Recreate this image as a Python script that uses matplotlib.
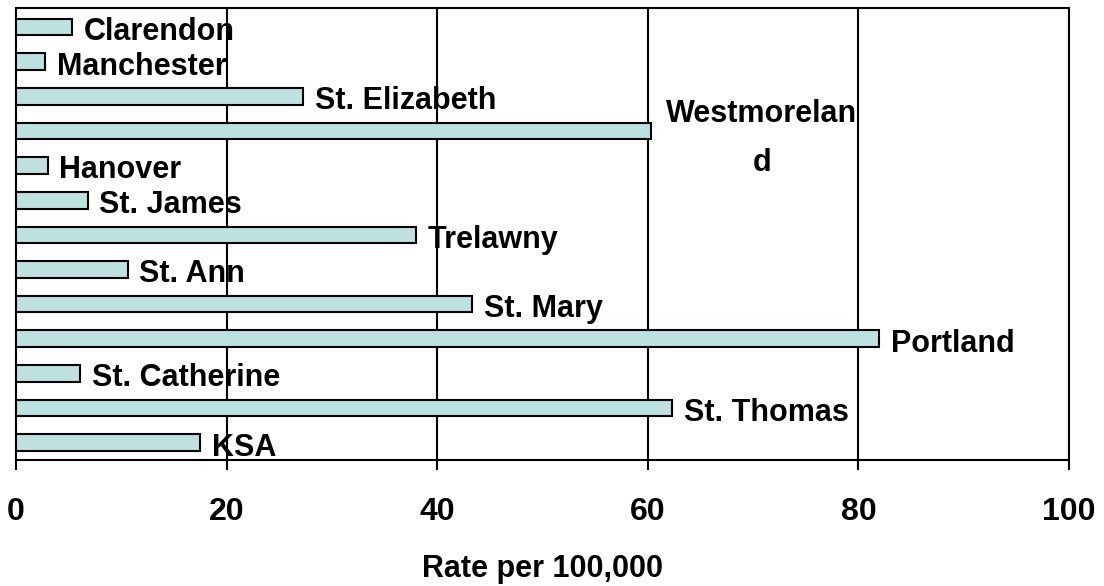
import matplotlib.pyplot as plt

# parishes, top to bottom as in the chart
parishes = ["Clarendon", "Manchester", "St. Elizabeth", "Westmoreland", "Hanover",
            "St. James", "Trelawny", "St. Ann", "St. Mary", "Portland",
            "St. Catherine", "St. Thomas", "KSA"]
rates = [5.3, 2.75, 27.3, 60.3, 3.0, 6.8, 38.0, 10.6, 43.3, 82.0, 6.1, 62.3, 17.5]
bar_labels = ["Clarendon", "Manchester", "St. Elizabeth", "Westmorelan\nd", "Hanover",
              "St. James", "Trelawny", "St. Ann", "St. Mary", "Portland",
              "St. Catherine", "St. Thomas", "KSA"]
xticks = [0, 20, 40, 60, 80, 100]

plt.rcParams['font.family'] = ['Liberation Sans', 'DejaVu Sans']
plt.rcParams['font.weight'] = 'bold'

fig = plt.figure(figsize=(11.04, 5.86), dpi=100)
ax = fig.add_axes([16/1104, 1 - 460/586, (1069 - 16)/1104, (460 - 8)/586])

pos = list(range(len(parishes)))
ax.barh(pos, rates, height=0.48, color='#BDE0E1', edgecolor='black', linewidth=1.5, zorder=3)

for i, (v, lab) in enumerate(zip(rates, bar_labels)):
    if "\n" in lab:
        # wrapped label sits to the right of its bar
        ax.annotate(lab, (v, i), xytext=(11, -5.5), textcoords='offset points',
                    ha='left', va='center', multialignment='center',
                    fontsize=22, fontweight='bold', linespacing=1.8, zorder=4)
    else:
        ax.annotate(lab, (v, i), xytext=(8.5, -3.5), textcoords='offset points',
                    ha='left', va='center', fontsize=22, fontweight='bold', zorder=4)

ax.set_xlim(0, 100)
ax.set_ylim(12.5, -0.55)
ax.set_xticks(xticks)
ax.set_xticklabels([str(t) for t in xticks], fontsize=23, fontweight='bold')
ax.set_yticks([])
ax.tick_params(axis='x', direction='out', length=7, width=1.5, pad=20)

for x in xticks[1:]:
    ax.axvline(x, color='black', linewidth=1.5, zorder=1)

for s in ax.spines.values():
    s.set_linewidth(1.5)
    s.set_color('black')

ax.set_xlabel("Rate per 100,000", fontsize=22, fontweight='bold', labelpad=19)

fig.savefig("out.png", dpi=100)
